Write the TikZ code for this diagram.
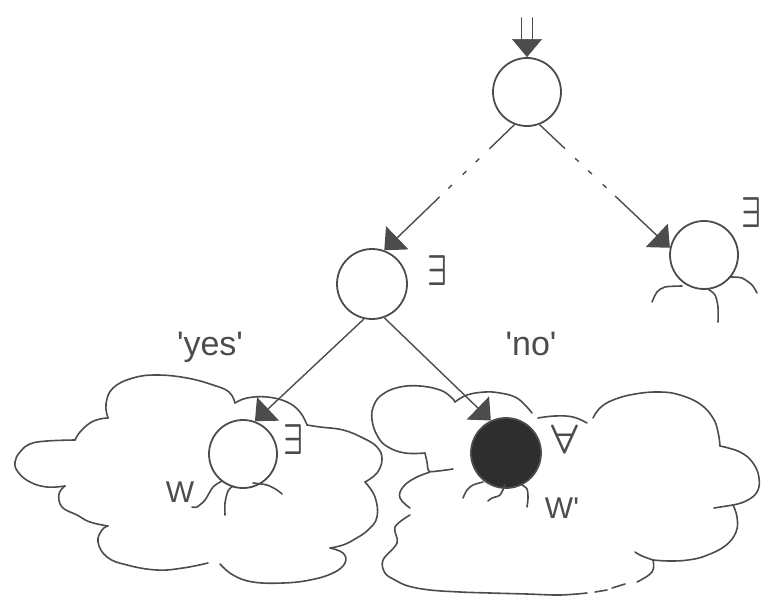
\documentclass[tikz,border=0pt]{standalone}
\usepackage{fontspec}
\setmainfont{Liberation Sans}
\usetikzlibrary{arrows.meta,calc}
\definecolor{ink}{gray}{0.30}
\definecolor{blob}{gray}{0.18}
\begin{document}
\begin{tikzpicture}[x=1pt,y=-1pt,
  state/.style={circle, draw=ink, line width=1.8pt, minimum size=68pt, inner sep=0pt},
  filledstate/.style={state, fill=blob},
  link/.style={draw=ink, line width=1.4pt, -{Triangle[length=18pt,width=32pt]}},
  broken/.style={link, dash pattern=on 35pt off 14pt on 5pt off 13pt on 5pt off 15pt on 5pt off 12pt on 400pt},
  leg/.style={draw=ink, line width=1.6pt, line cap=round, line join=round},
  cloud/.style={draw=ink, line width=1.6pt, line cap=round, line join=round},
  lbl/.style={text=ink, inner sep=0pt, anchor=base, font=\fontsize{34}{34}\selectfont},
  wlbl/.style={text=ink, inner sep=0pt, anchor=base, font=\fontsize{30}{30}\selectfont},
  sym/.style={text=ink, inner sep=0pt}]
\useasboundingbox (0,0) rectangle (767,602);

% ---- clouds: left one ----
\draw[cloud] plot[smooth, tension=0.7] coordinates {(108,418) (106,404) (113,388) (133,378) (157,375) (187,378) (213,385) (229,392) (235,403)};
\draw[cloud] plot[smooth, tension=0.7] coordinates {(235,403) (247,398) (267,397) (287,402) (300,412) (307,425)};
\draw[cloud] plot[smooth, tension=0.7] coordinates {(307,425) (320,427) (343,430) (363,438) (377,447) (382,459) (377,473) (365,482)};
\draw[cloud] plot[smooth, tension=0.7] coordinates {(365,482) (375,497) (377,517) (368,530) (355,539) (343,545) (330,548)};
\draw[cloud] plot[smooth, tension=0.7] coordinates {(330,548) (343,553) (345,563) (333,573) (310,580) (283,583) (253,582) (233,575) (220,564)};
\draw[cloud] plot[smooth, tension=0.7] coordinates {(208,563) (183,568) (157,570) (127,565) (107,557) (98,542) (102,530) (108,526)};
\draw[cloud] plot[smooth, tension=0.7] coordinates {(108,526) (90,522) (77,515) (62,507) (59,494) (65,486)};
\draw[cloud] plot[smooth, tension=0.7] coordinates {(65,486) (47,487) (30,482) (18,472) (15,462) (20,452) (30,444) (47,441) (75,440)};
\draw[cloud] plot[smooth, tension=0.7] coordinates {(75,440) (80,432) (90,423) (100,419) (108,418)};

% ---- clouds: right one ----
\draw[cloud] plot[smooth, tension=0.6] coordinates {(453,469) (438,471) (429,471) (427,462) (425,453)};
\draw[cloud] plot[smooth, tension=0.7] coordinates {(425,453) (405,453) (388,447) (378,437) (372,420) (374,405) (383,394) (400,387) (420,386) (440,390) (451,397) (455,402)};
\draw[cloud] plot[smooth, tension=0.7] coordinates {(455,402) (467,395) (485,392) (500,393) (515,397) (525,405) (532,413)};
\draw[cloud] plot[smooth, tension=0.7] coordinates {(538,418) (555,416) (573,417) (587,423)};
\draw[cloud] plot[smooth, tension=0.7] coordinates {(593,418) (600,408) (613,400) (635,394) (660,392) (680,395) (700,404) (713,418) (718,432) (720,446)};
\draw[cloud] plot[smooth, tension=0.7] coordinates {(720,446) (740,452) (753,463) (759,478) (757,492) (746,501) (733,505)};
\draw[cloud] (733,505) -- (714,508);
\draw[cloud] plot[smooth, tension=0.7] coordinates {(733,505) (737,517) (736,532) (725,546) (705,556) (688,560) (670,561) (653,560)};
\draw[cloud] plot[smooth, tension=0.7] coordinates {(653,560) (642,556) (635,552)};
\draw[cloud] plot[smooth, tension=0.7] coordinates {(653,560) (652,572) (637,582)};
\draw[cloud] (625,584) -- (612,588);
\draw[cloud] (607,590) -- (595,592);
\draw[cloud] plot[smooth, tension=0.6] coordinates {(587,593) (560,595) (527,594) (490,593) (460,592) (430,590) (408,586) (395,580) (385,573) (383,560) (397,543) (395,527) (410,515)};
\draw[cloud] plot[smooth, tension=0.7] coordinates {(430,472) (415,478) (403,487) (400,498) (410,508)};

% ---- states ----
\node[state] (top) at (527,92) {};
\node[state, minimum size=70pt] (mid) at (372,284) {};
\node[state] (rt) at (704,255) {};
\node[state] (ll) at (243,454) {};
\node[filledstate, minimum size=70pt] (lr) at (506,453) {};

% ---- legs ----
\draw[leg] plot[smooth] coordinates {(222,481) (213,487) (205,500) (197,507) (192,507)};
\draw[leg] plot[smooth] coordinates {(233,486) (228,491) (225,503) (225,515)};
\draw[leg] plot[smooth] coordinates {(253,483) (267,485) (277,490) (282,494)};

\draw[leg] plot[smooth] coordinates {(652,302) (657,292) (665,287) (682,286)};
\draw[leg] plot[smooth] coordinates {(708,289) (715,295) (718,307) (718,322)};
\draw[leg] plot[smooth] coordinates {(730,277) (742,278) (752,285) (757,293)};

\draw[leg] plot[smooth] coordinates {(483,482) (473,485) (467,490) (463,498)};
\draw[leg] plot[smooth] coordinates {(505,485) (500,495) (492,498) (488,501)};
\draw[leg] plot[smooth] coordinates {(522,485) (527,489) (528,498) (527,507)};

% ---- entry arrow ----
\coordinate (in) at (527,18);
\draw[leg] ($(in)+(-5.5,0)$) -- ++(0,25);
\draw[leg] ($(in)+(5.5,0)$) -- ++(0,25);
\draw[draw=ink, line width=0.6pt, -{Triangle[length=18pt,width=30pt]}] ($(in)+(0,22)$) -- (top.north);

% ---- transitions ----
\draw[broken] (top.249) -- (mid.70);
\draw[broken] (top.291) -- (rt.168);
\draw[link] (mid.257) -- (ll.70);
\draw[link] (mid.290) -- (lr.115);

% ---- labels ----
\node[sym] (q1) at (437,271) {\scalebox{3.1}[4.3]{\boldmath$\exists$}};
\node[sym] (q2) at (751,213) {\scalebox{3.1}[4.3]{\boldmath$\exists$}};
\node[sym] (q3) at (293,440) {\scalebox{3.1}[4.3]{\boldmath$\exists$}};
\node[sym] (q4) at (565,439) {\scalebox{4.2}[4.1]{\boldmath$\forall$}};
\node[lbl] (yes) at (210,355) {\textquotesingle yes\textquotesingle};
\node[lbl] (no) at (531,355) {\textquotesingle no\textquotesingle};
\node[wlbl] (w) at (180,502) {W};
\node[wlbl] (w2) at (562,518) {W\textquotesingle};
\end{tikzpicture}
\end{document}
